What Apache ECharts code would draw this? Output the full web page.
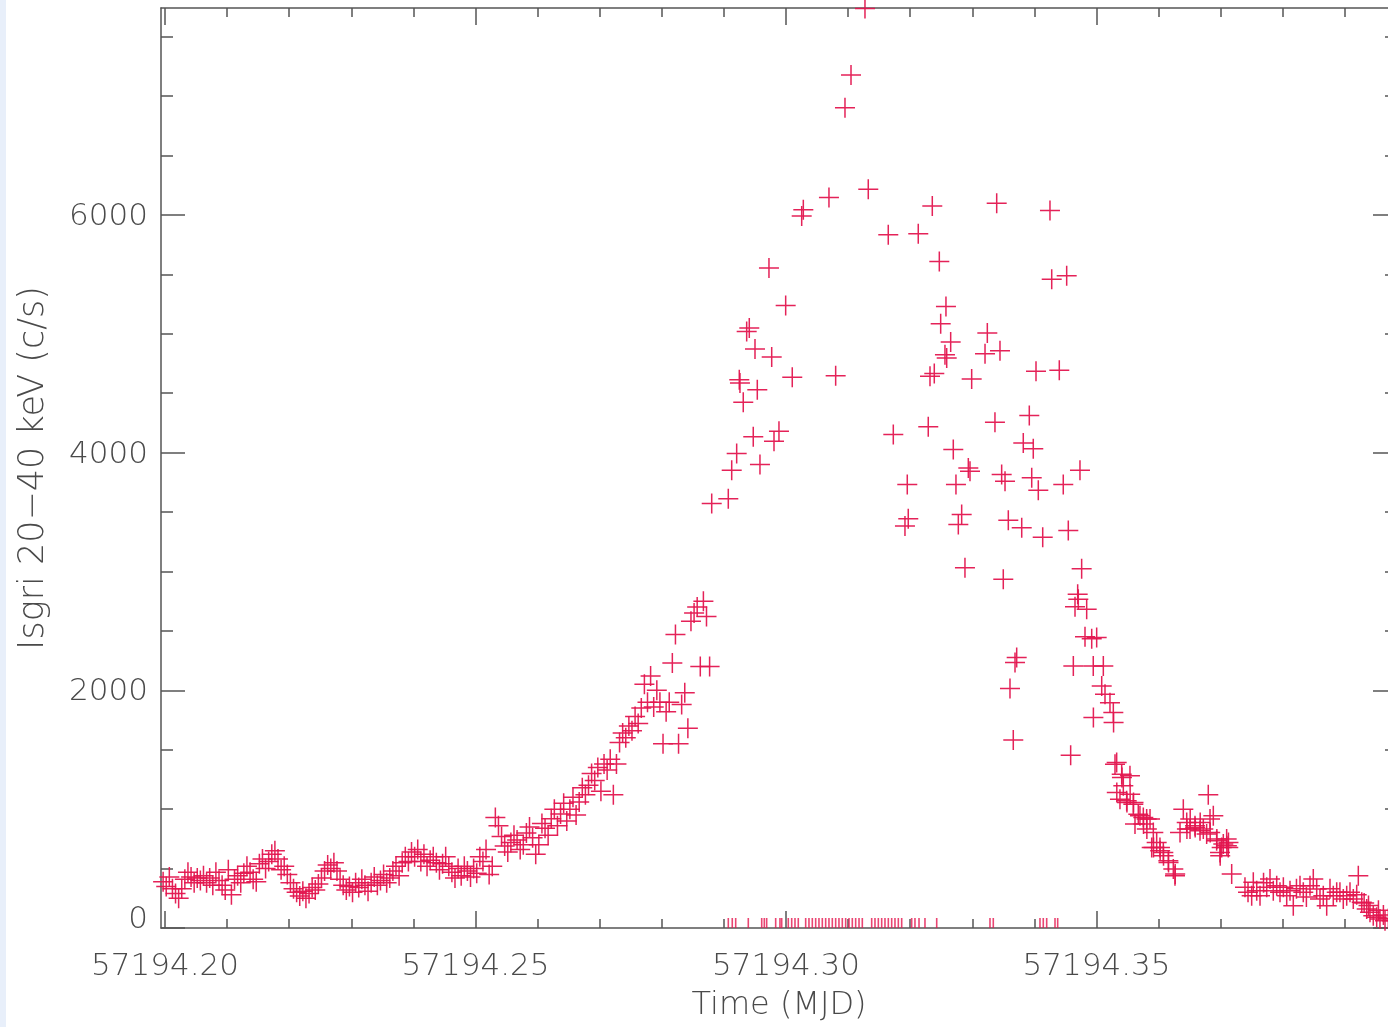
<!DOCTYPE html>
<html><head><meta charset="utf-8">
<script src="https://cdn.jsdelivr.net/npm/echarts@6/dist/echarts.min.js"></script>
<style>
html,body{margin:0;padding:0;background:#fff;overflow:hidden;width:1388px;height:1027px;}
#strip{position:absolute;left:0;top:0;width:6px;height:1027px;background:#e8effa;}
#chart{position:absolute;left:0;top:0;width:1400px;height:1027px;}
</style></head><body>
<div id="strip"></div><div id="chart"></div>
<script>
// Time (MJD) of each ISGRI point
const mjd = [
57194.1997,57194.2002,57194.2007,57194.2012,57194.2017,57194.2022,57194.2027,57194.2032,57194.2037,57194.2042,
57194.2047,57194.2052,57194.2057,57194.2062,57194.2067,57194.2072,57194.2077,57194.2082,57194.2087,57194.2092,
57194.2097,57194.2102,57194.2107,57194.2112,57194.2117,57194.2122,57194.2127,57194.2132,57194.2137,57194.2142,
57194.2147,57194.2152,57194.2157,57194.2162,57194.2167,57194.2172,57194.2177,57194.2182,57194.2187,57194.2192,
57194.2197,57194.2202,57194.2207,57194.2212,57194.2217,57194.2222,57194.2227,57194.2232,57194.2237,57194.2242,
57194.2247,57194.2252,57194.2257,57194.2262,57194.2267,57194.2272,57194.2277,57194.2282,57194.2287,57194.2292,
57194.2297,57194.2302,57194.2307,57194.2312,57194.2317,57194.2322,57194.2327,57194.2332,57194.2337,57194.2342,
57194.2347,57194.2352,57194.2357,57194.2362,57194.2367,57194.2372,57194.2377,57194.2382,57194.2387,57194.2392,
57194.2397,57194.2402,57194.2407,57194.2412,57194.2417,57194.2422,57194.2427,57194.2432,57194.2437,57194.2442,
57194.2447,57194.2452,57194.2457,57194.2462,57194.2467,57194.2472,57194.2477,57194.2482,57194.2487,57194.2492,
57194.2497,57194.2502,57194.2507,57194.2512,57194.2517,57194.2522,57194.2527,57194.2532,57194.2537,57194.2542,
57194.2547,57194.2552,57194.2557,57194.2562,57194.2567,57194.2572,57194.2577,57194.2582,57194.2587,57194.2592,
57194.2597,57194.2602,57194.2607,57194.2612,57194.2617,57194.2622,57194.2627,57194.2632,57194.2637,57194.2642,
57194.2647,57194.2652,57194.2657,57194.2662,57194.2667,57194.2672,57194.2677,57194.2682,57194.2687,57194.2692,
57194.2697,57194.2702,57194.2707,57194.2712,57194.2717,57194.2722,57194.2727,57194.2732,57194.2737,57194.2742,
57194.2747,57194.2752,57194.2757,57194.2762,57194.2767,57194.2772,57194.2777,57194.2782,57194.2787,57194.2792,
57194.2797,57194.2802,57194.2807,57194.2812,57194.2817,57194.2822,57194.2827,57194.2832,57194.2837,57194.2842,
57194.2847,57194.2852,57194.2857,57194.2862,57194.2867,57194.2872,57194.2877,
57194.28804,57194.29071,57194.29126,57194.29206,57194.29248,57194.29259,57194.29312,57194.29367,57194.29409,57194.29473,
57194.29501,57194.29538,57194.29581,57194.29726,57194.29770,57194.29807,57194.29887,57194.29995,57194.30101,57194.30253,
57194.30279,57194.30692,57194.30800,57194.30950,57194.31047,57194.31272,57194.31325,57194.31647,57194.31728,57194.31916,
57194.31953,57194.31969,57194.32130,57194.32291,57194.32319,57194.32356,57194.32388,57194.32469,57194.32491,57194.32560,
57194.32576,57194.32588,57194.32652,57194.32694,57194.32737,57194.32775,57194.32829,57194.32882,57194.32936,57194.32963,
57194.32990,57194.33205,57194.33242,57194.33365,57194.33393,57194.33446,57194.33473,57194.33499,57194.33527,57194.33580,
57194.33607,57194.33660,57194.33688,57194.33715,57194.33796,57194.33821,57194.33918,57194.33957,57194.33982,57194.34026,
57194.34063,57194.34134,57194.34251,57194.34279,57194.34401,57194.34465,57194.34520,57194.34546,57194.34584,57194.34627,
57194.34654,57194.34697,57194.34707,57194.34734,57194.34761,57194.34815,57194.34842,57194.34923,57194.34948,57194.34950,
57194.35003,57194.35084,57194.35110,57194.35137,57194.35217,57194.35271,57194.35275,57194.35298,57194.35325,57194.35327,
57194.35378,57194.35406,57194.35410,57194.35432,57194.35486,57194.35490,57194.35539,57194.35542,57194.35593,57194.35596,
57194.35620,57194.35673,57194.35700,57194.35754,57194.35757,57194.35808,57194.35811,57194.35862,57194.35889,57194.35915,
57194.35918,57194.35969,57194.36022,57194.36025,57194.36076,57194.36079,57194.36157,57194.36160,57194.36237,57194.36264,
57194.36267,57194.36345,57194.36398,57194.36453,57194.36456,57194.36506,57194.36509,57194.36586,57194.36589,57194.36667,
57194.36670,57194.36720,57194.36774,57194.36800,57194.36828,57194.36831,57194.36881,57194.36935,57194.36938,57194.36989,
57194.36992,57194.37016,57194.37042,57194.37096,57194.37099,57194.37122,57194.37125,57194.37177,
57194.37391,57194.37440,57194.37499,57194.37525,57194.37580,57194.37633,57194.37690,57194.37741,57194.37794,57194.37847,
57194.37902,57194.37955,57194.38009,57194.38063,57194.38116,57194.38169,57194.38220,57194.38277,57194.38330,57194.38380,
57194.38438,57194.38491,57194.38546,57194.38599,57194.38652,57194.38707,57194.38760,57194.38813,57194.38868,57194.38920,
57194.38974,57194.39029,57194.39082,57194.39135,57194.39190,57194.39216,57194.39271,57194.39310,57194.39351,57194.39380,
57194.39404,57194.39457,57194.39512,57194.39540,57194.39565,57194.39620,57194.39646,57194.39700,57194.39760
];
// ISGRI 20-40 keV count rate (c/s)
const rate = [
390,350,430,330,290,250,330,410,470,430,
380,420,400,440,380,420,360,470,400,360,
320,490,280,410,440,380,460,520,470,410,
390,540,580,500,560,620,650,580,490,520,
450,380,330,300,270,310,250,290,340,320,
370,420,480,530,500,550,480,410,360,320,
350,300,380,340,410,360,310,380,430,360,
400,450,380,420,480,520,440,550,600,560,
640,600,660,560,620,520,570,600,550,490,
540,600,520,470,420,500,440,520,480,430,
500,460,600,560,660,450,520,930,860,770,
690,640,720,780,740,660,700,800,850,760,
620,700,880,840,780,920,1000,860,960,1050,
900,1000,1100,950,1060,1180,1120,1200,1300,1240,
1350,1150,1380,1330,1420,1120,1380,1560,1640,1600,
1700,1660,1780,1720,1850,2050,1900,2120,1860,2000,
1900,1550,1820,1900,2230,2470,1550,1880,1980,1680,
2580,2650,2700,2200,2750,2620,2200,
3571,3611,3851,3991,4613,4585,4423,5019,5048,4132,
4871,4529,3899,5552,4804,4095,4179,5238,4633,5991,
6042,6145,4647,6900,7176,7735,6216,5832,4151,3381,
3731,3443,5840,4216,4641,6075,4664,5607,5084,4823,
5229,4796,4930,4025,3731,3395,3479,3031,3871,3843,
4619,4832,5006,4255,6098,4857,3815,2933,3759,3431,
2014,1582,2233,2275,3367,4081,4311,3787,4031,4683,
3683,3288,6036,5459,4692,3731,5487,3344,1454,2204,
2703,2807,2765,3851,3022,2451,2681,2434,2204,1770,
2443,2036,2204,1966,1896,1812,1728,1378,1392,1140,
1084,1294,1266,1196,1070,1056,1280,1126,1042,1056,
874,958,944,930,874,916,832,916,678,804,
678,720,678,650,636,608,566,552,496,440,
454,804,1000,888,832,832,916,860,846,818,
888,832,790,1120,916,804,944,734,748,636,
608,678,706,748,692,678,720,454,
342,300,272,384,314,272,380,342,412,314,
356,300,342,272,314,188,330,356,300,260,
356,412,328,244,272,188,330,272,300,300,
244,272,300,244,280,440,216,210,160,190,
132,104,90,150,76,110,62,80,60
];
// Times flagged by the red marks along the time axis
const rugMjd = [
57194.29071,57194.29135,57194.29190,57194.29393,57194.29609,57194.29651,57194.29689,57194.29834,57194.29903,57194.29931,
57194.30037,57194.30092,57194.30145,57194.30198,57194.30317,57194.30370,57194.30424,57194.30478,57194.30531,57194.30585,
57194.30639,57194.30692,57194.30746,57194.30800,57194.30853,57194.30907,57194.30961,57194.31015,57194.31068,57194.31122,
57194.31176,57194.31229,57194.31380,57194.31433,57194.31487,57194.31541,57194.31594,57194.31648,57194.31702,57194.31755,
57194.31809,57194.31863,57194.32024,57194.32077,57194.32142,57194.32238,57194.32427,57194.33285,57194.33338,57194.34090,
57194.34143,57194.34198,57194.34332,57194.34375
];
const xMajorTicks = [57194.20, 57194.25, 57194.30, 57194.35];
const xMinorTicks = [57194.21,57194.22,57194.23,57194.24,57194.26,57194.27,57194.28,57194.29,
                     57194.31,57194.32,57194.33,57194.34,57194.36,57194.37,57194.38,57194.39];
const yMajorTicks = [0, 2000, 4000, 6000];
const yMinorTicks = [500,1000,1500,2500,3000,3500,4500,5000,5500,6500,7000,7500];
const xRange = [57194.19936, 57194.39839];
const yRange = [0, 7740];

const axisColor = '#555';
const textColor = '#4a4a4a';
const FONT = 'DejaVu Sans';
const RED = '#e3164f';

function xAxisDef(pos, ticks, len, showLine, labels) {
  return {
    type: 'value', position: pos, min: xRange[0], max: xRange[1],
    splitLine: {show: false},
    axisLine: {show: showLine, onZero: false, lineStyle: {color: axisColor, width: 1.5}},
    axisTick: {show: true, inside: true, length: len, customValues: ticks, lineStyle: {color: axisColor, width: 1.5}},
    axisLabel: labels ? {show: true, customValues: xMajorTicks, formatter: v => v.toFixed(2),
      fontSize: 31, fontFamily: FONT, fontWeight: 200, color: textColor, margin: 23} : {show: false}
  };
}
function yAxisDef(pos, ticks, len, showLine, labels) {
  return {
    type: 'value', position: pos, min: yRange[0], max: yRange[1],
    splitLine: {show: false},
    axisLine: {show: showLine, onZero: false, lineStyle: {color: axisColor, width: 1.5}},
    axisTick: {show: true, inside: true, length: len, customValues: ticks, lineStyle: {color: axisColor, width: 1.5}},
    axisLabel: labels ? {show: true, customValues: yMajorTicks,
      formatter: v => v === 0 ? '{z|0}' : '{n|' + v + '}',
      rich: {
        z: {fontSize: 31, fontFamily: FONT, fontWeight: 200, color: textColor, padding: [0, 0, 16, 0]},
        n: {fontSize: 31, fontFamily: FONT, fontWeight: 200, color: textColor, padding: [4, 0, 0, 0]}
      },
      fontSize: 31, fontFamily: FONT, fontWeight: 200, color: textColor, margin: 13} : {show: false}
  };
}

const xAxes = [
  xAxisDef('bottom', xMajorTicks, 17, true, true),
  xAxisDef('bottom', xMinorTicks, 9, false, false),
  xAxisDef('top', xMajorTicks, 17, true, false),
  xAxisDef('top', xMinorTicks, 9, false, false)
];
Object.assign(xAxes[0], {name: 'Time (MJD)', nameLocation: 'middle', nameGap: 62,
  nameTextStyle: {fontSize: 32, fontFamily: FONT, fontWeight: 200, color: textColor}});
const yAxes = [
  yAxisDef('left', yMajorTicks, 24, true, true),
  yAxisDef('left', yMinorTicks, 12, false, false),
  yAxisDef('right', yMajorTicks, 24, true, false),
  yAxisDef('right', yMinorTicks, 12, false, false)
];
Object.assign(yAxes[0], {name: 'Isgri 20\u221240 keV (c/s)', nameLocation: 'middle', nameGap: 110,
  nameTextStyle: {fontSize: 35, fontFamily: FONT, fontWeight: 200, color: textColor}});

const chart = echarts.init(document.getElementById('chart'), null, {renderer: 'canvas'});
chart.setOption({
  animation: false,
  backgroundColor: 'transparent',
  grid: {left: 161, right: 3, top: 8, bottom: 98, containLabel: false},
  xAxis: xAxes,
  yAxis: yAxes,
  series: [
    {
      type: 'scatter', xAxisIndex: 0, yAxisIndex: 0,
      data: mjd.map((t, i) => [t, rate[i]]),
      symbol: 'path://M10,0L10,20M0,10L20,10', symbolSize: 20,
      itemStyle: {color: RED, borderColor: RED, borderWidth: 1.5, opacity: 0.95},
      clip: false, silent: true, emphasis: {disabled: true}
    },
    {
      type: 'scatter', xAxisIndex: 0, yAxisIndex: 0,
      data: rugMjd.map(t => [t, 0]),
      symbol: 'rect', symbolSize: [1.6, 10], symbolOffset: [0, -5],
      itemStyle: {color: RED},
      clip: false, silent: true, emphasis: {disabled: true}
    }
  ]
});
</script>
</body></html>
